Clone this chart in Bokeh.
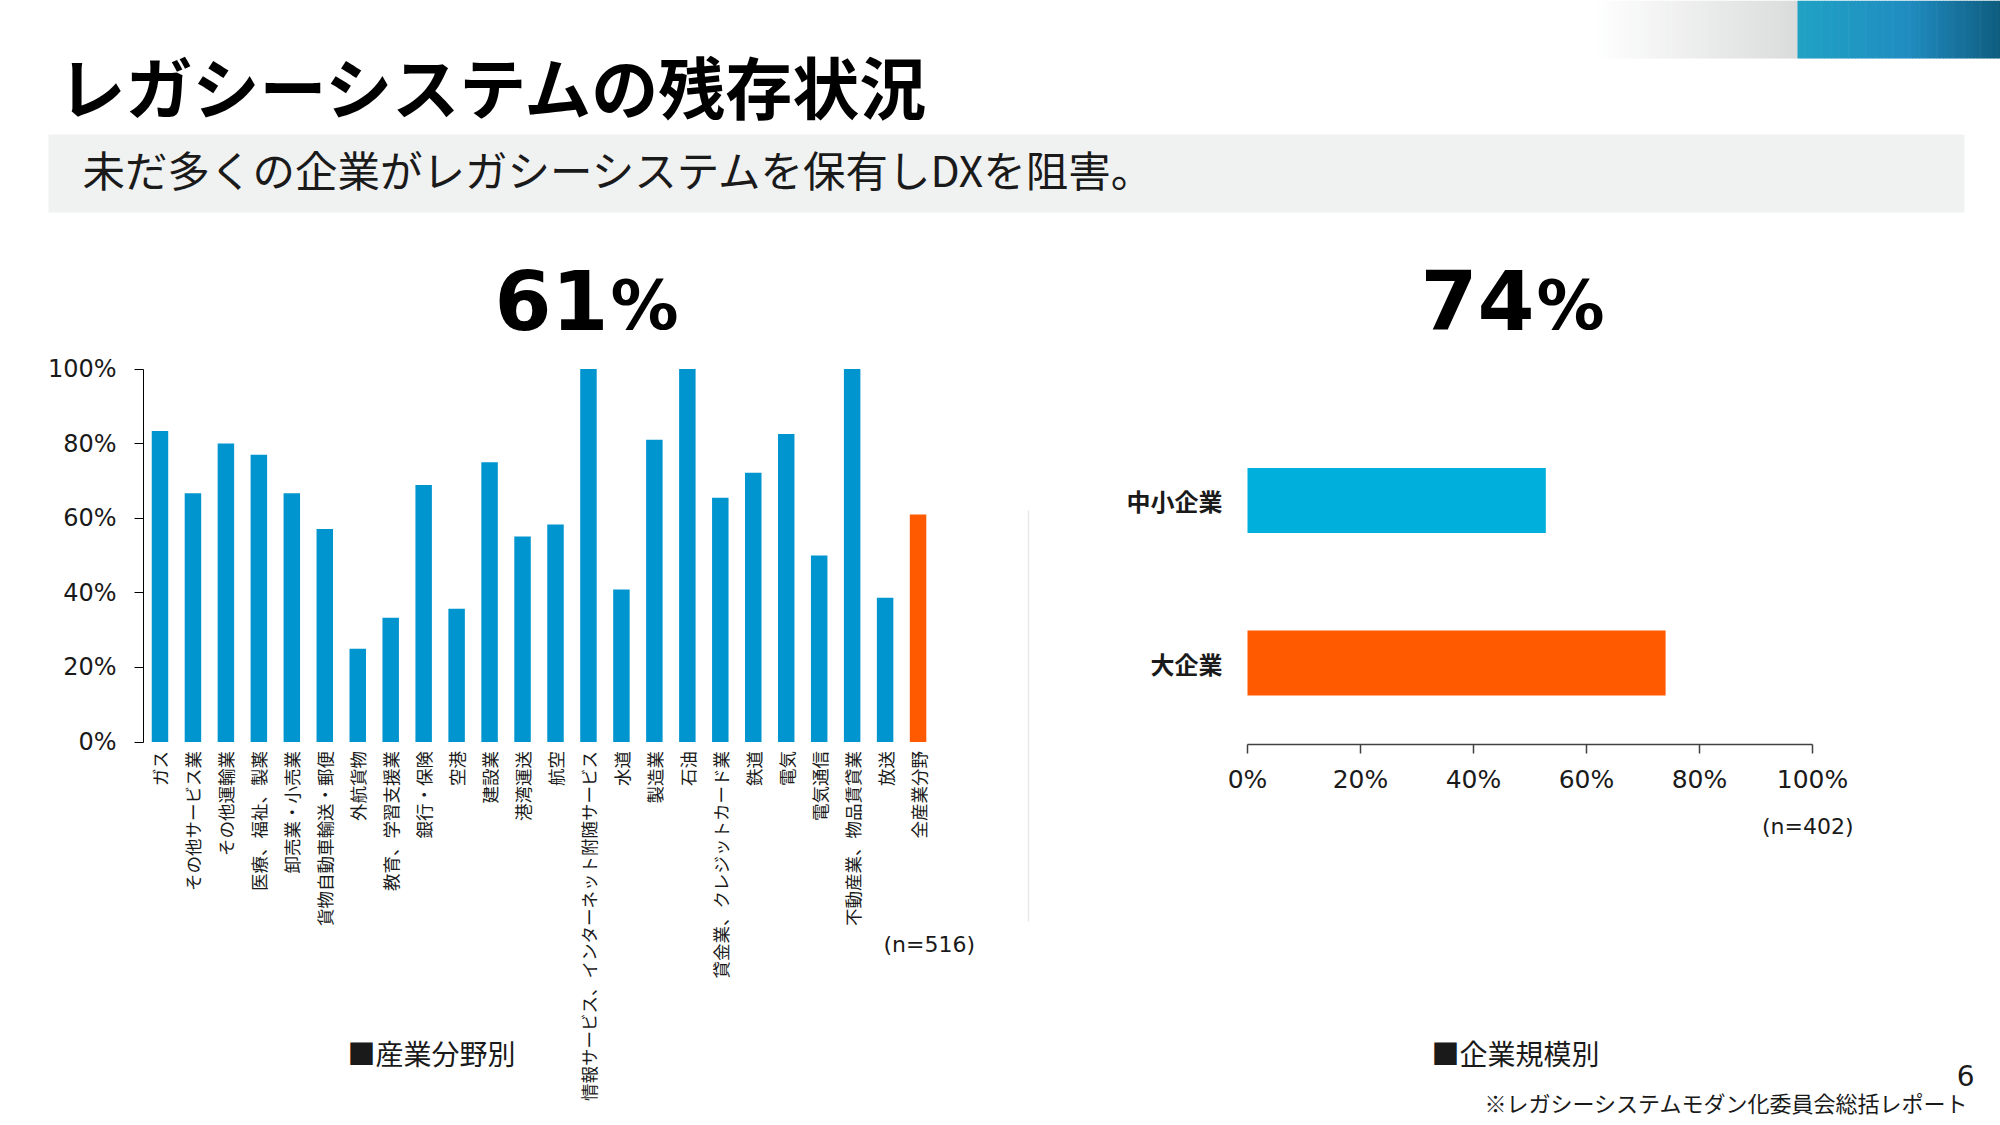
import math

from bokeh.core.properties import value
from bokeh.embed import file_html
from bokeh.models import FixedTicker, LinearAxis, Range1d
from bokeh.plotting import figure
from bokeh.resources import INLINE

# --- data -------------------------------------------------------------------
industries = [
    "ガス", "その他サービス業", "その他運輸業", "医療、福祉、製薬", "卸売業・小売業",
    "貨物自動車輸送・郵便", "外航貨物", "教育、学習支援業", "銀行・保険", "空港",
    "建設業", "港湾運送", "航空", "情報サービス、インターネット附随サービス", "水道",
    "製造業", "石油", "貸金業、クレジットカード業", "鉄道", "電気", "電気通信",
    "不動産業、物品賃貸業", "放送", "全産業分野",
]
industry_share = [
    83.4, 66.7, 80.0, 77.0, 66.7, 57.1, 25.0, 33.3, 68.9, 35.7, 75.0, 55.1,
    58.3, 100.0, 40.9, 81.0, 100.0, 65.5, 72.2, 82.6, 50.0, 100.0, 38.7, 61.0,
]
size_classes = ["大企業", "中小企業"]
size_share = [74.0, 52.8]

pct_ticks = [0, 20, 40, 60, 80, 100]
pct_labels = {t: f"{t}%" for t in pct_ticks}

TITLE = "レガシーシステムの残存状況"
SUBTITLE = "未だ多くの企業がレガシーシステムを保有しDXを阻害。"
n_industry = "(n=516)"
n_size = "(n=402)"
caption_left = "■産業分野別"
caption_right = "■企業規模別"
page_no = "6"
source_note = "※レガシーシステムモダン化委員会総括レポート"

BLUE = "#0095CF"
CYAN = "#00AFDB"
ORANGE = "#FF5A00"
INK = "#1a1a1a"
JP = "Noto Sans CJK JP"
NUM = "DejaVu Sans"

W, H = 2000, 1125

# --- page geometry (pixels from the top-left corner) ------------------------
# industry chart: axis at x=143, one category every 32.96 px; 0%..100% = 741.5..368.5
L_X0, L_STEP = 143.0, 32.96
L_Y0, L_PX = 741.5, 3.73
# company-size chart: 0%..100% = 1247..1812; one row every 162.5 px above y=743.75
R_X0, R_PX = 1247.0, 5.65
R_Y0, R_STEP = 743.75, 162.5


def blend(stops, n):
    """Colour ramp through the given (pos, (r, g, b)) stops."""
    out = []
    for i in range(n):
        t = (i + 0.5) / n
        for (p0, c0), (p1, c1) in zip(stops[:-1], stops[1:]):
            if p0 <= t <= p1:
                f = (t - p0) / (p1 - p0)
                rgb = [round(a + (b - a) * f) for a, b in zip(c0, c1)]
                out.append("#%02x%02x%02x" % tuple(rgb))
                break
    return out


p = figure(
    width=W, height=H, min_border=0, toolbar_location=None, output_backend="svg",
    x_axis_location=None, y_axis_location=None,
    x_range=Range1d(-L_X0 / L_STEP, (W - L_X0) / L_STEP),
    y_range=Range1d(-(H - L_Y0) / L_PX, L_Y0 / L_PX),
)
p.extra_x_ranges = {
    "page": Range1d(0, W),
    "rx": Range1d(-R_X0 / R_PX, (W - R_X0) / R_PX),
}
p.extra_y_ranges = {
    "page": Range1d(H, 0),
    "ry": Range1d(-(H - R_Y0) / R_STEP, R_Y0 / R_STEP),
}
p.grid.visible = False
p.outline_line_color = None
p.background_fill_color = "white"

PAGE = dict(x_range_name="page", y_range_name="page")

# --- header -----------------------------------------------------------------
n_strip = 60
gx0, gx1, bx1 = 1594, 1797, 2000
gray = blend([(0, (255, 255, 255)), (1, (218, 219, 219))], n_strip)
blue = blend([(0, (32, 162, 196)), (0.55, (32, 140, 192)), (1, (14, 92, 126))], n_strip)
gw = (gx1 - gx0) / n_strip
bw = (bx1 - gx1) / n_strip
p.quad(left=[gx0 + i * gw for i in range(n_strip)], right=[gx0 + (i + 1) * gw + 0.6 for i in range(n_strip)],
       top=0, bottom=58, color=gray, line_color=None, **PAGE)
p.quad(left=[gx1 + i * bw for i in range(n_strip)], right=[gx1 + (i + 1) * bw + 0.6 for i in range(n_strip)],
       top=0, bottom=58, color=blue, line_color=None, **PAGE)

p.text(x=[58], y=[84], text=[TITLE], text_font=value(JP), text_font_size="67px",
       text_font_style="bold", text_color="#000000", text_baseline="middle", **PAGE)

p.quad(left=[48], right=[1964], top=[134], bottom=[212], color="#F0F1F1", line_color=None, **PAGE)
p.text(x=[82], y=[168], text=[SUBTITLE], text_font=value(JP), text_font_size="42.5px",
       text_color=INK, text_baseline="middle", **PAGE)

# headline figures taken from the plotted values
all_share = industry_share[industries.index("全産業分野")]
large_share = size_share[size_classes.index("大企業")]
for right_edge, num in [(608, all_share), (1534, large_share)]:
    p.text(x=[right_edge], y=[299], text=[f"{num:.0f}"], text_font=value(NUM),
           text_font_size="82px", text_font_style="bold", text_color="#000000",
           text_align="right", text_baseline="middle", **PAGE)
    p.text(x=[right_edge + 2], y=[305], text=["%"], text_font=value(NUM),
           text_font_size="68px", text_font_style="bold", text_color="#000000",
           text_align="left", text_baseline="middle", **PAGE)

# --- industry chart ---------------------------------------------------------
ind_pos = [i + 0.5 for i in range(len(industries))]
colors = [ORANGE if c == "全産業分野" else BLUE for c in industries]
p.vbar(x=ind_pos, top=industry_share, width=0.5, color=colors, line_color=None)

ya = LinearAxis(fixed_location=0, bounds=(0, 100), ticker=FixedTicker(ticks=pct_ticks),
                major_label_overrides=pct_labels)
ya.axis_line_color = "#000000"
ya.major_tick_line_color = "#000000"
ya.major_tick_out = 9
ya.major_tick_in = 0
ya.minor_tick_line_color = None
ya.major_label_standoff = 18
ya.major_label_text_font = NUM
ya.major_label_text_font_size = "24px"
ya.major_label_text_color = INK
p.add_layout(ya, "left")

xa = LinearAxis(fixed_location=0, ticker=FixedTicker(ticks=ind_pos),
                major_label_overrides=dict(zip(ind_pos, industries)))
xa.axis_line_color = None
xa.major_tick_line_color = None
xa.major_tick_out = 0
xa.major_tick_in = 0
xa.minor_tick_line_color = None
xa.major_label_orientation = math.pi / 2
xa.major_label_standoff = 9
xa.major_label_text_font = JP
xa.major_label_text_font_size = "17.5px"
xa.major_label_text_color = INK
p.add_layout(xa, "below")

p.text(x=[883], y=[944], text=[n_industry], text_font=value(NUM), text_font_size="22px",
       text_color=INK, text_baseline="middle", **PAGE)
p.text(x=[347], y=[1052], text=[caption_left], text_font=value(JP), text_font_size="28px",
       text_color=INK, text_baseline="middle", **PAGE)

# --- company-size chart -----------------------------------------------------
size_pos = [i + 0.5 for i in range(len(size_classes))]
p.hbar(y=size_pos, right=size_share, height=0.4, color=[ORANGE, CYAN], line_color=None,
       x_range_name="rx", y_range_name="ry")

ra = LinearAxis(x_range_name="rx", y_range_name="ry", fixed_location=0, bounds=(0, 100),
                ticker=FixedTicker(ticks=pct_ticks), major_label_overrides=pct_labels)
ra.axis_line_color = "#404040"
ra.axis_line_width = 1.5
ra.major_tick_line_color = "#404040"
ra.major_tick_line_width = 1.5
ra.major_tick_out = 9
ra.major_tick_in = 0
ra.minor_tick_line_color = None
ra.major_label_standoff = 12
ra.major_label_text_font = NUM
ra.major_label_text_font_size = "25px"
ra.major_label_text_color = INK
p.add_layout(ra, "below")

rb = LinearAxis(x_range_name="rx", y_range_name="ry", fixed_location=0,
                ticker=FixedTicker(ticks=size_pos),
                major_label_overrides=dict(zip(size_pos, size_classes)))
rb.axis_line_color = None
rb.major_tick_line_color = None
rb.major_tick_out = 0
rb.major_tick_in = 0
rb.minor_tick_line_color = None
rb.major_label_standoff = 25
rb.major_label_text_font = JP
rb.major_label_text_font_size = "24px"
rb.major_label_text_font_style = "bold"
rb.major_label_text_color = INK
p.add_layout(rb, "left")

# thin divider between the two panels
p.segment(x0=[1028], y0=[510], x1=[1028], y1=[921], line_color="#E8E8E8", line_width=1.5, **PAGE)

p.text(x=[1853], y=[826], text=[n_size], text_font=value(NUM), text_font_size="22px",
       text_color=INK, text_align="right", text_baseline="middle", **PAGE)
p.text(x=[1431], y=[1052], text=[caption_right], text_font=value(JP), text_font_size="28px",
       text_color=INK, text_baseline="middle", **PAGE)
p.text(x=[1974], y=[1075], text=[page_no], text_font=value(NUM), text_font_size="28px",
       text_color=INK, text_align="right", text_baseline="middle", **PAGE)
p.text(x=[1968], y=[1101], text=[source_note], text_font=value(JP), text_font_size="22px",
       text_color=INK, text_align="right", text_baseline="middle", **PAGE)

open("out.html", "w").write(file_html(p, INLINE))
